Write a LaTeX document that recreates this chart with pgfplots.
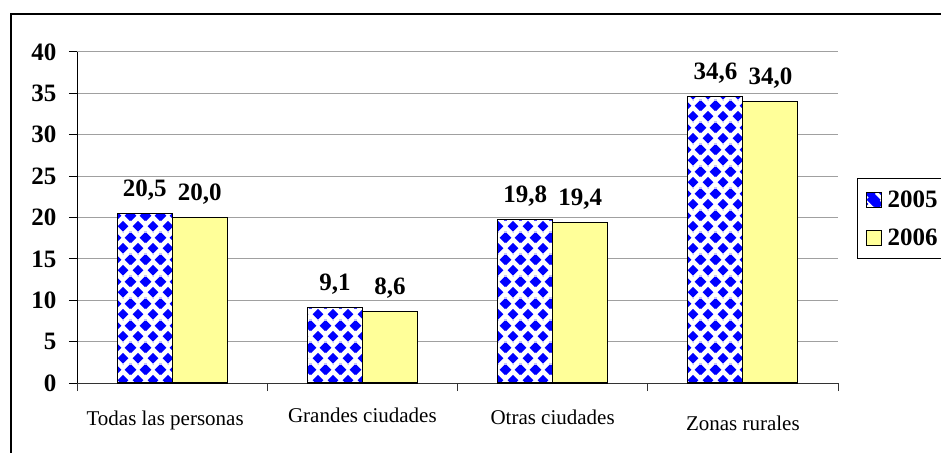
\documentclass[border=0pt]{standalone}
\usepackage{fontspec}
\setmainfont{Liberation Serif}
\usepackage{pgfplots}
\pgfplotsset{compat=1.18}
\usetikzlibrary{patterns}

\definecolor{barblue}{RGB}{0,0,255}
\definecolor{baryellow}{RGB}{255,255,153}
\definecolor{gridgray}{RGB}{160,160,160}

% one blue diamond of half-diagonal 5.6pt centred at (#1,#2)
\newcommand\dmd[2]{%
  \pgfpathmoveto{\pgfpoint{#1pt-5.6pt}{#2pt}}%
  \pgfpathlineto{\pgfpoint{#1pt}{#2pt+5.6pt}}%
  \pgfpathlineto{\pgfpoint{#1pt+5.6pt}{#2pt}}%
  \pgfpathlineto{\pgfpoint{#1pt}{#2pt-5.6pt}}%
  \pgfpathclose}
\pgfdeclarepatternformonly{diamonds}{\pgfqpoint{0pt}{0pt}}{\pgfqpoint{14.5pt}{22pt}}{\pgfqpoint{14.5pt}{22pt}}{%
  \dmd{7.25}{6}\dmd{7.25}{28}\dmd{7.25}{-16}%
  \dmd{0}{17}\dmd{14.5}{17}\dmd{0}{-5}\dmd{14.5}{-5}%
  \pgfusepath{fill}}

\begin{document}
\begin{tikzpicture}[x=1pt,y=1pt]
% outer chart frame (runs off the right and bottom edges)
\draw[line width=2pt] (10.5,-40) rectangle (1000,437.5);
\begin{axis}[
  at={(77pt,69pt)}, anchor=south west,
  scale only axis, width=761pt, height=331pt,
  ybar=0pt, bar width=55pt,
  xmin=-0.5, xmax=3.5, ymin=0, ymax=40,
  ytick={0,5,...,40},
  xtick={0,1,2,3},
  xticklabels={\hspace*{-14pt}Todas las personas, \raisebox{3pt}{Grandes ciudades}, \raisebox{1pt}{Otras ciudades}, \raisebox{-5pt}{Zonas rurales}},
  minor xtick={-0.5,0.5,1.5,2.5,3.5},
  major x tick style={draw=none},
  minor x tick style={black!80, line width=1pt},
  y tick style={black, line width=1pt},
  major tick length=8pt, minor tick length=8pt,
  tick align=outside,
  axis x line*=bottom, axis y line*=left,
  x axis line style={black!80, line width=1pt},
  y axis line style={black, line width=1pt},
  ymajorgrids, grid style={gridgray, line width=1pt},
  /pgf/number format/assume math mode=true,
  yticklabel style={font=\bfseries\fontsize{25}{30}\selectfont, anchor=east, xshift=-9pt},
  xticklabel style={font=\fontsize{21}{25}\selectfont, anchor=base, yshift=-34pt},
  nodes near coords={\pgfmathprintnumber[fixed,fixed zerofill,precision=1,use comma]{\pgfplotspointmeta}},
  nodes near coords style={font=\bfseries\fontsize{25}{30}\selectfont, anchor=base, yshift=17pt, black},
  legend style={at={(1.025,0.619)}, anchor=north west, draw=black, line width=1pt,
    font=\bfseries\fontsize{25}{30}\selectfont, row sep=16pt, inner ysep=10pt, inner xsep=8pt},
  legend cell align=left,
  legend image code/.code={\draw[#1, line width=1pt] (5pt,-7.5pt) rectangle (20pt,7.5pt); \path (24pt,0pt);},
]
\addplot[draw=black, line width=1.2pt, fill=white, postaction={pattern=diamonds, pattern color=barblue},
  legend image code/.code={%
    \draw[black, fill=white, line width=1pt] (5pt,-7.5pt) rectangle (20pt,7.5pt);
    \fill[barblue] (6.5pt,0pt) -- (12.5pt,6pt) -- (18.5pt,0pt) -- (12.5pt,-6pt) -- cycle;
    \path (24pt,0pt);}]
  coordinates {(0,20.5) (1,9.1) (2,19.8) (3,34.6)};
\addplot[draw=black, line width=1.2pt, fill=baryellow]
  coordinates {(0,20.0) (1,8.6) (2,19.4) (3,34.0)};
\legend{2005, 2006}
\end{axis}
\pgfresetboundingbox
\useasboundingbox (0,0) rectangle (941,452);
\end{tikzpicture}
\end{document}
